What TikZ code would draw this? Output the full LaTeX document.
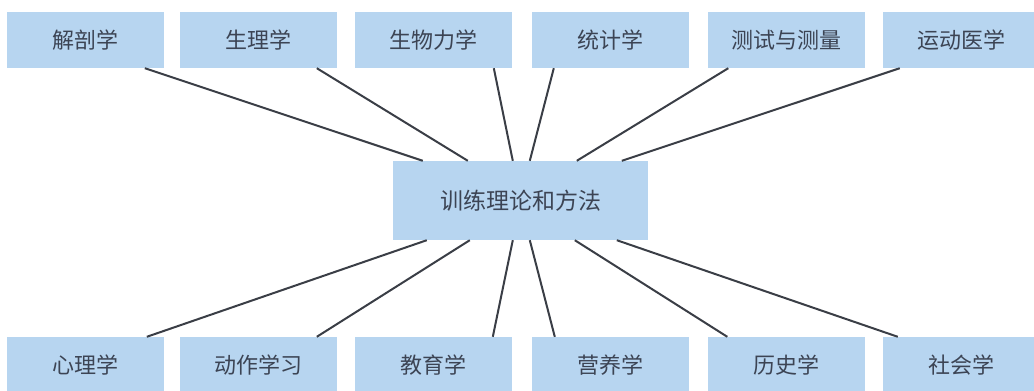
\documentclass[tikz,border=0pt]{standalone}
\usepackage{fontspec}
\setmainfont{Noto Sans CJK SC}
\usetikzlibrary{calc}
\definecolor{boxfill}{RGB}{183,213,240}
\definecolor{txt}{RGB}{60,68,84}
\definecolor{ln}{RGB}{58,62,70}
\begin{document}
\begin{tikzpicture}[x=1pt,y=-1pt,
  box/.style={fill=boxfill,draw=none,minimum width=157pt,minimum height=56pt,inner sep=0pt,text=txt,font=\fontsize{22pt}{26pt}\selectfont},
  hub/.style={box,minimum width=255pt,minimum height=79pt,font=\fontsize{23pt}{27pt}\selectfont},
  link/.style={draw=ln,line width=2pt}]
\useasboundingbox (0,0) rectangle (1034,391);
\node[hub] (c) at (520.5,200.5) {训练理论和方法};
\node[box] (t1) at (85.5,40) {解剖学};
\node[box] (t2) at (258.5,40) {生理学};
\node[box] (t3) at (433.5,40) {生物力学};
\node[box] (t4) at (610.5,40) {统计学};
\node[box] (t5) at (786,40) {测试与测量};
\node[box] (t6) at (961.5,40) {运动医学};
\node[box] (b1) at (85.5,365) {心理学};
\node[box] (b2) at (258.5,365) {动作学习};
\node[box] (b3) at (433.5,365) {教育学};
\node[box] (b4) at (610.5,365) {营养学};
\node[box] (b5) at (786,365) {历史学};
\node[box] (b6) at (961.5,365) {社会学};
\draw[link] ($(t1.south west)+(138,0)$) -- ($(c.north west)+(30,0)$);
\draw[link] ($(t2.south west)+(137,0)$) -- ($(c.north west)+(75,0)$);
\draw[link] ($(t3.south west)+(139,0)$) -- ($(c.north west)+(120,0)$);
\draw[link] ($(t4.south west)+(22,0)$) -- ($(c.north west)+(137,0)$);
\draw[link] ($(t5.south west)+(21,0)$) -- ($(c.north west)+(184,0)$);
\draw[link] ($(t6.south west)+(17,0)$) -- ($(c.north west)+(229,0)$);
\draw[link] ($(b1.north west)+(140,0)$) -- ($(c.south west)+(34,0)$);
\draw[link] ($(b2.north west)+(137,0)$) -- ($(c.south west)+(77,0)$);
\draw[link] ($(b3.north west)+(138,0)$) -- ($(c.south west)+(120,0)$);
\draw[link] ($(b4.north west)+(23,0)$) -- ($(c.south west)+(137,0)$);
\draw[link] ($(b5.north west)+(20,0)$) -- ($(c.south west)+(182,0)$);
\draw[link] ($(b6.north west)+(15,0)$) -- ($(c.south west)+(224,0)$);
\end{tikzpicture}
\end{document}
